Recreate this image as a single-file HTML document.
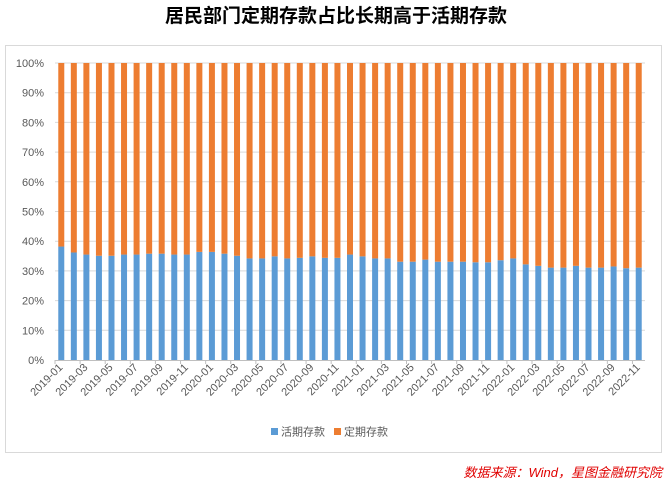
<!DOCTYPE html>
<html><head><meta charset="utf-8"><style>
body{margin:0;background:#fff;width:672px;height:482px;overflow:hidden;font-family:"Liberation Sans","Noto Sans CJK SC",sans-serif}
</style></head><body>
<svg width="672" height="482" xmlns="http://www.w3.org/2000/svg">
<text x="336" y="22" text-anchor="middle" font-size="19" font-weight="bold" fill="#000" font-family="Liberation Sans,Noto Sans CJK SC,sans-serif">居民部门定期存款占比长期高于活期存款</text>
<rect x="5.5" y="45.5" width="656" height="407" fill="none" stroke="#d9d9d9"/>
<g id="grid"></g><g id="bars"></g><g id="axes"></g>
<g>
<rect x="271" y="428" width="7" height="7" fill="#5b9bd5"/>
<text x="281" y="435.5" font-size="11" fill="#595959" font-family="Liberation Sans,Noto Sans CJK SC,sans-serif">活期存款</text>
<rect x="334" y="428" width="7" height="7" fill="#ed7d31"/>
<text x="344" y="435.5" font-size="11" fill="#595959" font-family="Liberation Sans,Noto Sans CJK SC,sans-serif">定期存款</text>
</g>
<text x="662" y="477" text-anchor="end" font-size="13" font-style="italic" fill="#e00000" font-family="Liberation Sans,Noto Sans CJK SC,sans-serif">数据来源：Wind，星图金融研究院</text>
</svg>
<script>
const categories=[];
for(let y=2019;y<=2022;y++)for(let m=1;m<=12;m++){if(y===2022&&m>11)break;categories.push(y+'-'+String(m).padStart(2,'0'));}
const demandShare=[38.2,36.2,35.5,35.1,35.1,35.5,35.5,35.8,35.8,35.5,35.5,36.4,36.4,35.8,35.1,34.2,34.2,34.9,34.2,34.4,34.9,34.4,34.4,35.5,34.9,34.2,34.2,33.1,33.1,33.8,33.1,33.1,33.1,32.9,32.9,33.6,34.2,32.2,31.7,31.1,31.1,31.7,31.1,31.1,31.5,30.9,31.1];
const yTicks=[0,10,20,30,40,50,60,70,80,90,100];
const NS='http://www.w3.org/2000/svg';
const x0=55,x1=645,yTop=63,yBot=360;
const band=(x1-x0)/categories.length;
const xC=i=>x0+band*(i+0.5);
const yS=v=>yBot-(v/100)*(yBot-yTop);
function mk(tag,attrs,parent){const e=document.createElementNS(NS,tag);for(const k in attrs)e.setAttribute(k,attrs[k]);document.getElementById(parent).appendChild(e);return e;}
yTicks.forEach(t=>{
  if(t>0){const l=mk('line',{x1:x0,x2:x1,y1:yS(t),y2:yS(t),stroke:'#d9d9d9','stroke-width':1},'grid');
  
  }
  const tx=mk('text',{x:44,y:yS(t)+4,'text-anchor':'end','font-size':11,fill:'#595959','font-family':'Liberation Sans,sans-serif'},'axes');
  tx.textContent=t+'%';
  
  
});
const bw=6;
categories.forEach((c,i)=>{
  const v=demandShare[i];
  const r1=mk('rect',{x:xC(i)-bw/2,y:yS(v),width:bw,height:yBot-yS(v),fill:'#5b9bd5'},'bars');
  
  
  const r2=mk('rect',{x:xC(i)-bw/2,y:yS(100),width:bw,height:yS(v)-yS(100),fill:'#ed7d31'},'bars');
  
  
  if(i%2===0){
    const tk=mk('line',{x1:x0+band*i,x2:x0+band*i,y1:yBot,y2:yBot+4,stroke:'#bfbfbf'},'axes');
    
    
    const tx=mk('text',{x:xC(i)+2,y:yBot+8,'text-anchor':'end','font-size':11,fill:'#595959','font-family':'Liberation Sans,sans-serif',transform:'rotate(-45 '+(xC(i)+2)+' '+(yBot+8)+')'},'axes');
    tx.textContent=c;
    
    
  }
});
const ax=mk('line',{x1:x0,x2:x1,y1:yBot+0.5,y2:yBot+0.5,stroke:'#bfbfbf'},'axes');


</script>
</body></html>
